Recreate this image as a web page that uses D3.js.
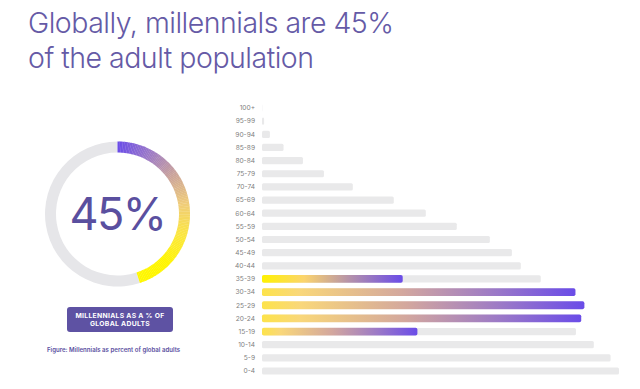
<!DOCTYPE html>
<html><head><meta charset="utf-8">
<script src="https://cdn.jsdelivr.net/npm/d3@7"></script>
<style>
html,body{margin:0;padding:0;background:#fff;}
svg{display:block;}
text{font-family:Inter,"Open Sans",sans-serif;}
</style></head>
<body>
<svg id="c" width="640" height="389"></svg>
<script>
// ---- data ----
const titleLines = ["Globally, millennials are 45%", "of the adult population"];
const ageGroups = ["100+","95-99","90-94","85-89","80-84","75-79","70-74","65-69","60-64","55-59","50-54","45-49","40-44","35-39","30-34","25-29","20-24","15-19","10-14","5-9","0-4"];
// population by age group (millions, estimated)
const population = [0.5,4,15,41,78,118,173,251,312,371,434,476,493,531,597,614,608,598,632,664,680];
// millennial share of each age group (millions, estimated)
const millennials = [0,0,0,0,0,0,0,0,0,0,0,0,0,268,597,614,608,296,0,0,0];
const sharePct = 45;
const badgeLines = ["MILLENNIALS AS A % OF","GLOBAL ADULTS"];
const caption = "Figure: Millennials as percent of global adults";

const svg = d3.select("#c");
const defs = svg.append("defs");

// title
svg.append("g").selectAll("text").data(titleLines).join("text")
  .attr("x", 28).attr("y", (d,i)=>33+i*35)
  .attr("fill","#655aa6").attr("font-size",28.5).attr("font-weight",300)
  .attr("letter-spacing","-0.5")
  .text(d=>d);

// ---- bar chart ----
const x = d3.scaleLinear().domain([0,680]).range([262,619]);
const y = d3.scalePoint().domain(ageGroups).range([108,371]);
const bh = 7.2;

const g1 = defs.append("linearGradient").attr("id","gBright");
[[0,"#fff200"],[0.3,"#fbd46e"],[0.62,"#b592aa"],[1,"#6a4ce8"]].forEach(s=>g1.append("stop").attr("offset",s[0]).attr("stop-color",s[1]));
const g2 = defs.append("linearGradient").attr("id","gSoft");
[[0,"#fde34a"],[0.12,"#f9d77a"],[0.45,"#d3a79e"],[0.75,"#9a78c8"],[1,"#6a4ce8"]].forEach(s=>g2.append("stop").attr("offset",s[0]).attr("stop-color",s[1]));

const rows = ageGroups.map((a,i)=>({age:a,pop:population[i],mil:millennials[i]}));

svg.append("g").selectAll("text").data(rows).join("text")
  .attr("x",255).attr("y",d=>y(d.age)).attr("dy","0.35em")
  .attr("text-anchor","end").attr("font-size",6.6).attr("fill","#808080")
  .text(d=>d.age);

svg.append("g").selectAll("rect").data(rows).join("rect")
  .attr("x",x(0)).attr("y",d=>y(d.age)-bh/2)
  .attr("width",d=>x(d.pop)-x(0)).attr("height",bh)
  .attr("rx",1.5).attr("fill","#e9e9ea");

svg.append("g").selectAll("rect").data(rows.filter(d=>d.mil>0)).join("rect")
  .attr("x",x(0)).attr("y",d=>y(d.age)-bh/2-0.3)
  .attr("width",d=>x(d.mil)-x(0)).attr("height",bh+0.6)
  .attr("rx",1.8)
  .attr("fill",d=>d.age==="35-39"?"url(#gBright)":"url(#gSoft)");

// ---- donut ----
const cx=117.5, cy=214, ro=72.5, ri=61.5;
const dg = svg.append("g").attr("transform",`translate(${cx},${cy})`);
const arc = d3.arc().innerRadius(ri).outerRadius(ro);
const full = 2*Math.PI, endA = full*sharePct/100;
dg.append("path").attr("d",arc({startAngle:endA,endAngle:full})).attr("fill","#e6e6e9");
const col = d3.piecewise(d3.interpolateRgb, ["#6a4ce8","#9a78c8","#c9a29c","#f0cc7a","#fbe640","#fff500","#fff700"]);
const N=120;
for(let i=0;i<N;i++){
  const a0=endA*i/N, a1=endA*(i+1)/N+0.004;
  dg.append("path").attr("d",arc({startAngle:a0,endAngle:Math.min(a1,endA)})).attr("fill",col((i+0.5)/N));
}
dg.append("text").attr("text-anchor","middle").attr("y",16)
  .attr("font-size",45).attr("fill","#5a4f9f").attr("font-weight",400)
  .attr("letter-spacing","-1.5")
  .text(sharePct+"%");

// badge
svg.append("rect").attr("x",67).attr("y",307).attr("width",106).attr("height",25)
  .attr("rx",3).attr("fill","#5e52a3");
svg.append("g").selectAll("text").data(badgeLines).join("text")
  .attr("x",120).attr("y",(d,i)=>316+i*7.5).attr("dy","0.35em")
  .attr("text-anchor","middle").attr("font-size",6.8).attr("font-weight",700)
  .attr("fill","#fff").attr("letter-spacing","0.3").text(d=>d);

svg.append("text").attr("x",47).attr("y",350).attr("dy","0.35em")
  .attr("font-size",6.1).attr("font-weight",600).attr("fill","#5a4f9f")
  .text(caption);
</script>
</body></html>
